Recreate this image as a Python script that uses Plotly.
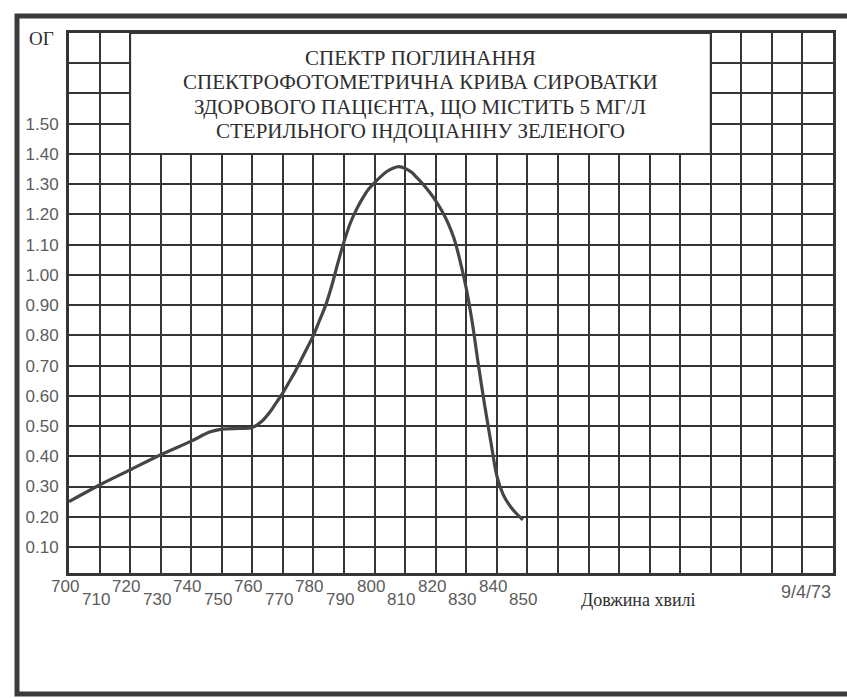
import plotly.graph_objects as go

# ---- data ----
wavelength = [700, 710, 720, 730, 740, 746, 750, 756, 760,
              763, 766, 768, 770, 772, 774, 776, 778, 780, 782, 784, 786, 788, 790,
              792, 794, 796, 798, 800, 802, 804, 806, 808, 810, 812, 814, 816, 818,
              820, 822, 824, 826, 828, 830, 832, 834, 836, 838, 840, 842, 844, 846,
              848.5]
absorbance = [0.25, 0.305, 0.355, 0.405, 0.45, 0.48, 0.49, 0.492, 0.495,
              0.515, 0.55, 0.58, 0.61, 0.645, 0.68, 0.72, 0.76, 0.80, 0.85,
              0.90, 0.965, 1.04, 1.11, 1.17, 1.215, 1.252, 1.283, 1.305, 1.325, 1.342,
              1.353, 1.358, 1.352, 1.34, 1.32, 1.298, 1.273, 1.245, 1.212, 1.172, 1.12,
              1.045, 0.955, 0.84, 0.70, 0.57, 0.45, 0.335, 0.275, 0.24, 0.215, 0.19]

y_ticks = [0.1, 0.2, 0.3, 0.4, 0.5, 0.6, 0.7, 0.8, 0.9, 1.0, 1.1, 1.2, 1.3, 1.4, 1.5]
y_tick_labels = ["0.10", "0.20", "0.30", "0.40", "0.50", "0.60", "0.70", "0.80",
                 "0.90", "1.00", "1.10", "1.20", "1.30", "1.40", "1.50"]
y_extra_grid = [1.6, 1.7]
x_grid = list(range(700, 951, 10))
x_tick_labels = [700, 710, 720, 730, 740, 750, 760, 770, 780, 790, 800, 810, 820,
                 830, 840, 850]

title_lines = ["СПЕКТР ПОГЛИНАННЯ",
               "СПЕКТРОФОТОМЕТРИЧНА КРИВА СИРОВАТКИ",
               "ЗДОРОВОГО ПАЦІЄНТА, ЩО МІСТИТЬ 5 МГ/Л",
               "СТЕРИЛЬНОГО ІНДОЦІАНІНУ ЗЕЛЕНОГО"]
y_axis_title = "ОГ"
x_axis_title = "Довжина хвилі"
date_text = "9/4/73"

# ---- styling ----
GRID = "#353535"
LABEL = "#5c5c5c"
SANS = "Liberation Sans"
SERIF = "Liberation Serif"

W, H = 847, 698
L, R, T, B = 69, 14, 33, 125
pw, ph = W - L - R, H - T - B

def px_to_paper_x(px):
    return (px - L) / pw

def px_to_paper_y(py):
    return (H - B - py) / ph

fig = go.Figure()
fig.add_trace(go.Scatter(
    x=wavelength, y=absorbance, mode="lines",
    line=dict(color="#454545", width=3.2, shape="spline", smoothing=0.9),
    hoverinfo="x+y", showlegend=False,
))

y_grid_vals = y_ticks + y_extra_grid
y_grid_text = y_tick_labels + ["" for _ in y_extra_grid]

fig.update_xaxes(
    range=[700, 950], tickvals=x_grid, ticktext=["" for _ in x_grid],
    showgrid=True, gridcolor=GRID, gridwidth=2,
    showline=True, linecolor=GRID, linewidth=3, mirror=True,
    zeroline=False, ticks="", fixedrange=True,
)
fig.update_yaxes(
    range=[0.014, 1.8], tickvals=y_grid_vals, ticktext=y_grid_text,
    showgrid=True, gridcolor=GRID, gridwidth=2,
    showline=True, linecolor=GRID, linewidth=3, mirror=True,
    zeroline=False, ticks="outside", ticklen=4, tickcolor="rgba(0,0,0,0)",
    tickfont=dict(family=SANS, size=17, color=LABEL), fixedrange=True,
)

shapes = []
# title box covering the grid
shapes.append(dict(type="rect", xref="x", yref="y", x0=720, x1=910, y0=1.4, y1=1.8,
                   fillcolor="white", line=dict(color=GRID, width=2), layer="above"))
# outer frame
shapes.append(dict(type="rect", xref="paper", yref="paper",
                   x0=px_to_paper_x(17), x1=px_to_paper_x(860),
                   y0=px_to_paper_y(694), y1=px_to_paper_y(16),
                   line=dict(color="#3a3a3a", width=5), fillcolor="rgba(0,0,0,0)",
                   layer="above"))

annotations = []
for i, t in enumerate(title_lines):
    annotations.append(dict(
        x=815, xref="x", y=px_to_paper_y(58 + i * 24.3), yref="paper",
        text=t, showarrow=False, xanchor="center", yanchor="middle",
        font=dict(family=SERIF, size=21, color="#2e2e2e")))

for v in x_tick_labels:
    odd = (v // 10) % 2 == 1
    annotations.append(dict(
        x=v, xref="x", y=0, yref="paper", text=str(v), showarrow=False,
        xanchor="center", yanchor="middle", xshift=-4,
        yshift=-26 if odd else -13,
        font=dict(family=SANS, size=17, color=LABEL)))

annotations.append(dict(
    x=px_to_paper_x(41), xref="paper", y=px_to_paper_y(39), yref="paper",
    text=y_axis_title, showarrow=False, xanchor="center", yanchor="middle",
    font=dict(family=SERIF, size=19, color="#2e2e2e")))
annotations.append(dict(
    x=px_to_paper_x(638), xref="paper", y=px_to_paper_y(600), yref="paper",
    text=x_axis_title, showarrow=False, xanchor="center", yanchor="middle",
    font=dict(family=SERIF, size=18, color="#2e2e2e")))
annotations.append(dict(
    x=1, xref="paper", y=px_to_paper_y(592), yref="paper",
    text=date_text, showarrow=False, xanchor="right", yanchor="middle",
    font=dict(family=SANS, size=18, color=LABEL)))

fig.update_layout(
    width=W, height=H,
    margin=dict(l=L, r=R, t=T, b=B, pad=0),
    paper_bgcolor="white", plot_bgcolor="white",
    shapes=shapes, annotations=annotations,
    showlegend=False,
)

fig.write_html("out.html", config={"displayModeBar": False},
               post_script="document.body.style.margin='0';document.body.style.overflow='hidden';")
